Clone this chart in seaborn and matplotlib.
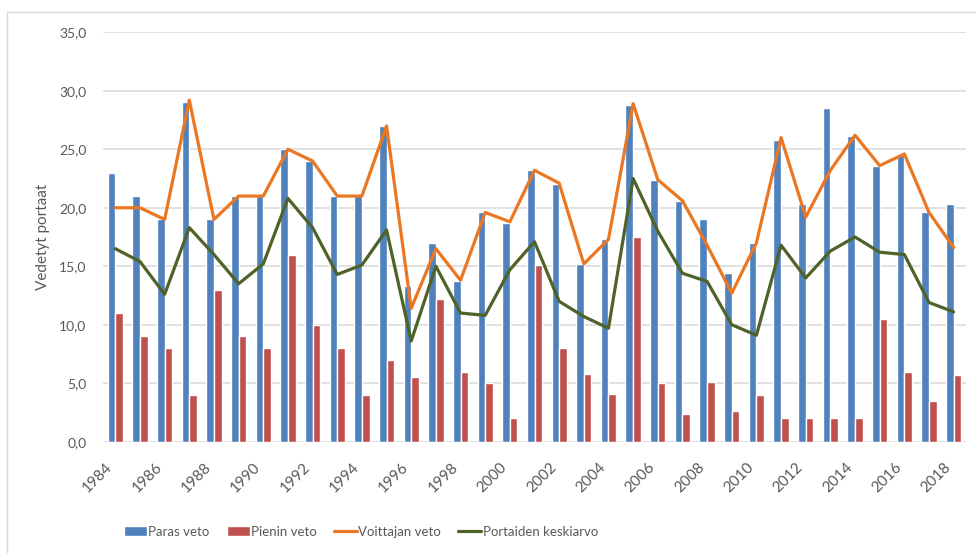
import numpy as np
import pandas as pd
import matplotlib
matplotlib.use("Agg")
import matplotlib.pyplot as plt
import matplotlib.ticker as mticker
from matplotlib.patches import Patch
from matplotlib.lines import Line2D
import seaborn as sns

# data
vuodet = [str(v) for v in range(1984, 2019)]
paras_veto = [23.0, 21.0, 19.0, 29.0, 19.0, 21.0, 21.0, 25.0, 24.0, 21.0,
              21.0, 27.0, 13.3, 17.0, 13.7, 19.6, 18.7, 23.2, 22.0, 15.2,
              17.3, 28.8, 22.4, 20.6, 19.0, 14.4, 17.0, 25.8, 20.3, 28.5,
              26.1, 23.6, 24.5, 19.6, 20.3]
pienin_veto = [11.0, 9.0, 8.0, 4.0, 13.0, 9.0, 8.0, 16.0, 10.0, 8.0,
               4.0, 7.0, 5.5, 12.2, 6.0, 5.0, 2.0, 15.1, 8.0, 5.8,
               4.1, 17.5, 5.0, 2.4, 5.1, 2.6, 4.0, 2.0, 2.0, 2.0,
               2.0, 10.5, 6.0, 3.5, 5.7]
voittajan_veto = [20.0, 20.0, 19.0, 29.2, 19.0, 21.0, 21.0, 25.0, 24.0, 21.0,
                  21.0, 27.0, 11.4, 16.5, 13.8, 19.6, 18.8, 23.2, 22.1, 15.2,
                  17.3, 28.9, 22.4, 20.6, 16.8, 12.7, 17.0, 26.0, 19.2, 23.2,
                  26.2, 23.6, 24.6, 19.6, 16.6]
keskiarvo = [16.5, 15.4, 12.6, 18.3, 16.0, 13.5, 15.2, 20.8, 18.3, 14.3,
             15.1, 18.1, 8.6, 15.0, 11.0, 10.8, 14.7, 17.1, 12.0, 10.7,
             9.7, 22.5, 18.0, 14.4, 13.7, 10.0, 9.1, 16.8, 14.0, 16.3,
             17.5, 16.2, 16.0, 11.9, 11.1]
sarjat = ['Paras veto', 'Pienin veto', 'Voittajan veto', 'Portaiden keskiarvo']

blue = '#4F81BD'
red = '#C0504D'
orange = '#EC7722'
green = '#4F6228'
grid_color = '#D9D9D9'
text_color = '#595959'

sns.set_style('white')
plt.rcParams['font.family'] = ['Lato', 'DejaVu Sans']

n = len(vuodet)
df = pd.DataFrame({
    'vuosi': vuodet * 2,
    'veto': paras_veto + pienin_veto,
    'sarja': [sarjat[0]] * n + [sarjat[1]] * n,
})

fig = plt.figure(figsize=(9.76, 5.53), dpi=100)
ax = fig.add_axes([103 / 976, (553 - 441.7) / 553, 863 / 976, 409.4 / 553])

sns.barplot(data=df, x='vuosi', y='veto', hue='sarja', order=vuodet,
            palette=[blue, red], width=0.62, gap=0, errorbar=None,
            saturation=1, legend=False, ax=ax)

pos = np.arange(n)
sns.lineplot(x=pos, y=voittajan_veto, color=orange, linewidth=2.3, ax=ax)
sns.lineplot(x=pos, y=keskiarvo, color=green, linewidth=2.3, ax=ax)

ax.set_xlim(-0.5, n - 0.5)
ax.set_ylim(0, 35)
ax.set_yticks(np.arange(0, 35.1, 5))
ax.yaxis.set_major_formatter(mticker.FuncFormatter(lambda v, p: f'{v:.1f}'.replace('.', ',')))
ax.set_xticks(pos[::2])
ax.set_xticklabels(vuodet[::2], rotation=45, ha='right')
ax.tick_params(axis='x', length=0, pad=13, labelsize=11, labelcolor=text_color)
ax.tick_params(axis='y', length=0, pad=12, labelsize=10, labelcolor=text_color)

ax.yaxis.grid(True, color=grid_color, linewidth=1.1)
ax.set_axisbelow(True)
for s in ax.spines.values():
    s.set_visible(False)

ax.set_xlabel('')
ax.set_ylabel('Vedetyt portaat', fontsize=11, color=text_color)
ax.yaxis.set_label_coords((50 - 103) / 863, 0.5)

# outer chart frame (cropped at right and bottom)
fig.add_artist(Line2D([7 / 976, 7 / 976], [0, 1 - 12 / 553],
                      transform=fig.transFigure, color=grid_color, lw=1))
fig.add_artist(Line2D([7 / 976, 1], [1 - 12 / 553, 1 - 12 / 553],
                      transform=fig.transFigure, color=grid_color, lw=1))

handles = [Patch(facecolor=blue), Patch(facecolor=red),
           Line2D([], [], color=orange, lw=2.3), Line2D([], [], color=green, lw=2.3)]
fig.legend(handles, sarjat, loc='center', bbox_to_anchor=(361 / 976, 1 - 531.7 / 553),
           ncol=4, frameon=False, fontsize=9.5, labelcolor=text_color,
           handlelength=1.75, handleheight=0.85, handletextpad=0.1, columnspacing=1.3)

fig.savefig('out.png', dpi=100)
